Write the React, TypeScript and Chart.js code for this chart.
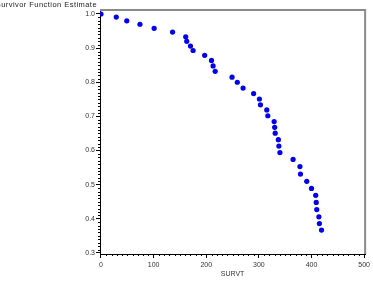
import React, { useEffect, useRef } from "react";
import { Chart, registerables } from "chart.js";

Chart.register(...registerables);

const survTimes = [0, 29, 49, 74, 101, 136, 161, 163, 170, 175, 197, 210, 213, 217, 249, 259, 270, 290, 301, 303, 315, 317, 329, 330, 331, 337, 338, 340, 365, 378, 379, 391, 400, 408, 409, 410, 414, 415, 419];
const survEstimates = [1.0, 0.991, 0.98, 0.97, 0.958, 0.947, 0.933, 0.92, 0.906, 0.893, 0.879, 0.864, 0.848, 0.832, 0.815, 0.8, 0.783, 0.767, 0.751, 0.734, 0.719, 0.702, 0.685, 0.668, 0.651, 0.632, 0.613, 0.594, 0.574, 0.553, 0.531, 0.51, 0.489, 0.469, 0.448, 0.427, 0.406, 0.386, 0.367];
const xTickValues = [0, 100, 200, 300, 400, 500];
const yTickValues = [0.3, 0.4, 0.5, 0.6, 0.7, 0.8, 0.9, 1.0];
const yTitle = "Survivor Function Estimate";
const xTitle = "SURVT";

const FONT = "'Liberation Sans', Arial, sans-serif";

const decorPlugin = {
  id: "decor",
  afterDraw(chart: any) {
    const ctx = chart.ctx;
    const area = chart.chartArea;
    const xs = chart.scales.x;
    const ys = chart.scales.y;
    ctx.save();
    // minor ticks
    ctx.strokeStyle = "#000";
    ctx.lineWidth = 1;
    ctx.beginPath();
    for (let v = 0; v <= 500; v += 10) {
      if (v % 100 === 0) continue;
      const px = Math.round(xs.getPixelForValue(v)) + 0.5;
      ctx.moveTo(px, area.bottom);
      ctx.lineTo(px, area.bottom + 2);
    }
    for (let i = 30; i <= 100; i++) {
      if (i % 10 === 0) continue;
      const py = Math.round(ys.getPixelForValue(i / 100)) + 0.5;
      ctx.moveTo(area.left - 2, py);
      ctx.lineTo(area.left, py);
    }
    ctx.stroke();
    // frame top and right
    ctx.strokeStyle = "#8a8a8a";
    ctx.lineWidth = 2;
    ctx.beginPath();
    ctx.moveTo(area.left, area.top);
    ctx.lineTo(area.right, area.top);
    ctx.lineTo(area.right, area.bottom);
    ctx.stroke();
    // y title at top-left
    ctx.fillStyle = "#222";
    ctx.font = `7.5px ${FONT}`;
    try {
      ctx.letterSpacing = "0.45px";
    } catch (e) {}
    ctx.textAlign = "right";
    ctx.textBaseline = "middle";
    ctx.fillText(yTitle, area.left - 3, 5);
    ctx.restore();
  },
};

export default function App() {
  const ref = useRef<HTMLCanvasElement | null>(null);
  useEffect(() => {
    if (!ref.current) return;
    const chart = new Chart(ref.current, {
      type: "scatter",
      data: {
        datasets: [
          {
            data: survTimes.map((t, i) => ({ x: t, y: survEstimates[i] })),
            backgroundColor: "#0000ee",
            borderColor: "#0000ee",
            pointRadius: 2.6,
            pointBorderWidth: 0,
          },
        ],
      },
      options: {
        animation: false,
        responsive: false,
        devicePixelRatio: 1,
        layout: { padding: { top: 10, right: 7, left: 0, bottom: 0 } },
        plugins: { legend: { display: false }, tooltip: { enabled: false }, title: { display: false } },
        scales: {
          x: {
            type: "linear",
            min: -1.9,
            max: 501.9,
            afterBuildTicks: (s: any) => {
              s.ticks = xTickValues.map((v) => ({ value: v }));
            },
            afterFit: (s: any) => {
              s.height = 28;
            },
            ticks: { font: { size: 7, family: FONT }, color: "#333", padding: 3, maxRotation: 0 },
            grid: { display: true, drawOnChartArea: false, drawTicks: true, tickLength: 4, color: "#000" },
            border: { display: true, color: "#000", width: 1 },
            title: { display: true, text: xTitle, font: { size: 7, family: FONT }, color: "#333", padding: { top: 0, bottom: 4 } },
          },
          y: {
            type: "linear",
            min: 0.297,
            max: 1.0117,
            afterBuildTicks: (s: any) => {
              s.ticks = yTickValues.map((v) => ({ value: v }));
            },
            afterFit: (s: any) => {
              s.width = 100;
            },
            ticks: {
              font: { size: 7, family: FONT },
              color: "#333",
              padding: 1,
              callback: (v: any) => Number(v).toFixed(1),
            },
            grid: { display: true, drawOnChartArea: false, drawTicks: true, tickLength: 4, color: "#000" },
            border: { display: true, color: "#000", width: 1 },
          },
        },
      },
      plugins: [decorPlugin],
    });
    return () => chart.destroy();
  }, []);
  return (
    <div style={{ position: "fixed", left: 0, top: 0, width: 373, height: 282, background: "#fff" }}>
      <canvas ref={ref} width={373} height={282} style={{ width: 373, height: 282, display: "block" }} />
    </div>
  );
}
